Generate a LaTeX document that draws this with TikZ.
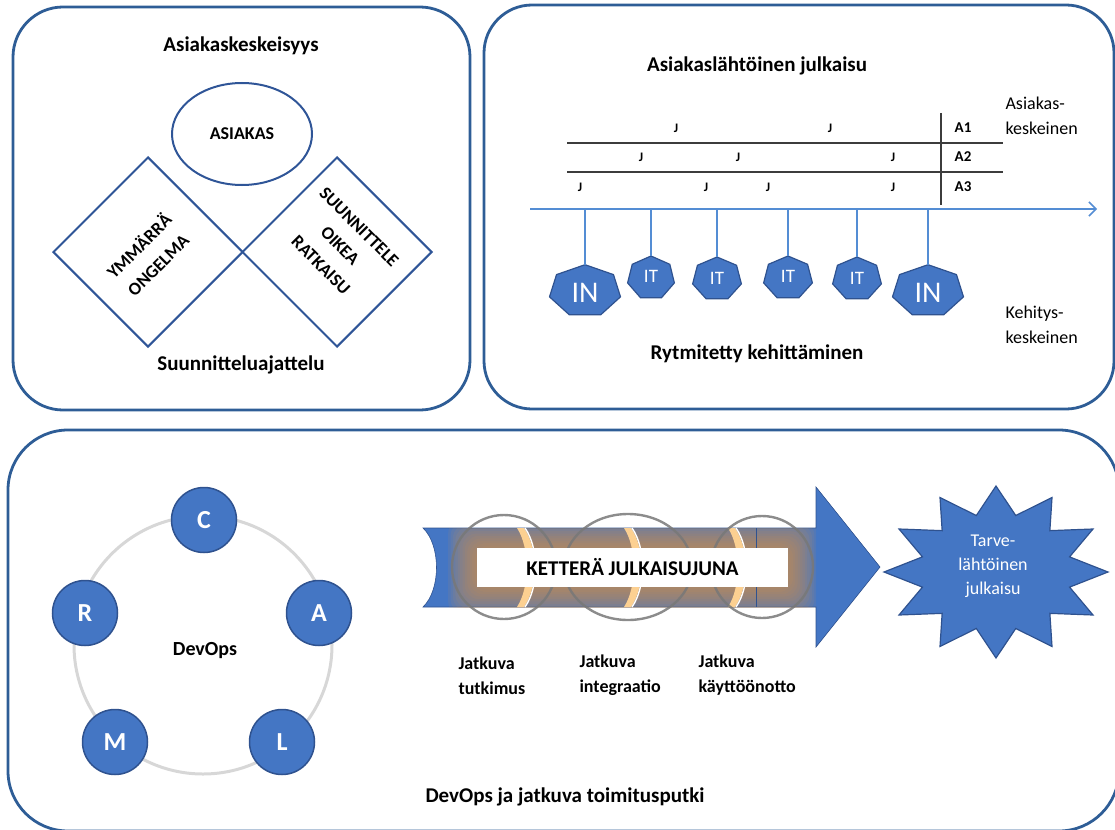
\documentclass[tikz,border=0pt]{standalone}
\usepackage{fontspec}
\setmainfont{Carlito}
\usetikzlibrary{shapes.geometric,arrows.meta}

\definecolor{framecol}{RGB}{46,93,150}
\definecolor{shapecol}{RGB}{47,85,151}
\definecolor{bluefill}{RGB}{68,118,196}
\definecolor{blueedge}{RGB}{47,82,143}
\definecolor{axiscol}{RGB}{84,141,212}
\definecolor{rulecol}{RGB}{60,60,60}
\definecolor{ringcol}{RGB}{120,120,120}
\definecolor{cyclecol}{RGB}{215,215,215}
\definecolor{glowcol}{RGB}{210,145,75}
\definecolor{jointcol}{RGB}{252,208,145}

\newcommand\fs[2]{\fontsize{#1}{#2}\selectfont}
% heptagon with flat bottom: centre x, centre y, x radius, y radius, style
\newcommand\drawhept[5]{%
  \begin{scope}[shift={(#1,#2)}, xscale=#3, yscale=-#4]
    \path[#5] (90:1) \foreach \k in {1,...,6}{ -- ({90+\k*360/7}:1) } -- cycle;
  \end{scope}}

\begin{document}
\begin{tikzpicture}[x=1pt, y=-1pt,
  panel/.style={draw=framecol, line width=2.8},
  title/.style={font=\bfseries\fs{21}{25}},
  shapeline/.style={draw=shapecol, line width=2},
  caps/.style={font=\bfseries\fs{18}{27}, align=center},
  jmark/.style={font=\bfseries\fs{13}{15}},
  rowlbl/.style={font=\bfseries\fs{15}{17}},
  side/.style={font=\fs{18}{25}, align=left, anchor=west},
  hept/.style={fill=bluefill, draw=blueedge, line width=1.2},
  heptbig/.style={text=white, font=\fs{30}{32}},
  heptsmall/.style={text=white, font=\fs{19}{21}},
  stem/.style={draw=axiscol, line width=1.4},
  stemthick/.style={draw=axiscol, line width=2.6},
  devnode/.style={circle, fill=bluefill, draw=blueedge, line width=1.5,
    minimum size=65, inner sep=0, text=white, font=\bfseries\fs{26}{30}},
  lbl/.style={font=\bfseries\fs{18}{25}, align=left, anchor=west},
  ring/.style={draw=ringcol, line width=2.4, opacity=0.85},
  startext/.style={text=white, font=\fs{18}{24}, align=center}]

\useasboundingbox (0,0) rectangle (1115,829);
\clip (0,0) rectangle (1115,829);

% ---------- panels ----------
\draw[panel, rounded corners=50] (13,7) rectangle (470,410);
\draw[panel, rounded corners=48] (484,5) rectangle (1114,409);
\draw[panel, rounded corners=60] (8,430) rectangle (1119,831);

% ---------- design thinking ----------
\node[title] (asktitle) at (241,46) {Asiakaskeskeisyys};
\node[ellipse, shapeline, minimum width=140, minimum height=102, inner sep=0,
  font=\bfseries\fs{18}{21}] (asiakas) at (242,134) {ASIAKAS};
\node[diamond, shapeline, minimum width=190, minimum height=190, inner sep=0] (dleft) at (148,252) {};
\node[diamond, shapeline, minimum width=190, minimum height=190, inner sep=0] (dright) at (337,252) {};
\node[caps, rotate=45] (ymm) at (148,255) {YMMÄRRÄ\\ONGELMA};
\node[caps, rotate=-45] (suun) at (340,246) {SUUNNITTELE\\OIKEA\\RATKAISU};
\node[title] (suutitle) at (241,365) {Suunnitteluajattelu};

% ---------- release cadence ----------
\node[title] (reltitle) at (757,66) {Asiakaslähtöinen julkaisu};
\draw[rulecol, line width=1.6] (567,143) -- (1003,143);
\draw[rulecol, line width=1.6] (567,172) -- (1003,172);
\draw[rulecol, line width=1.6] (941,113) -- (941,205);
\foreach \x in {676,830} \node[jmark] at (\x,128) {J};
\foreach \x in {641,738,893} \node[jmark] at (\x,157) {J};
\foreach \x in {580,706,768,893} \node[jmark] at (\x,187) {J};
\node[rowlbl] (a1) at (963,128) {A1};
\node[rowlbl] (a2) at (963,157) {A2};
\node[rowlbl] (a3) at (963,187) {A3};
\node[side] (asiakasside) at (1002,116) {Asiakas-\\keskeinen};
\node[side] (kehside) at (1002,325) {Kehitys-\\keskeinen};

\coordinate (axstart) at (530,209);
\coordinate (axend) at (1097,209);
\draw[axiscol, line width=1.5, -{Straight Barb[length=7,width=14,line width=1.5]}] (axstart) -- (axend);

% stems and heptagons
\drawhept{585}{291}{36.4}{26.3}{hept}
\drawhept{651}{278}{24}{22}{hept}
\drawhept{717}{279}{25}{22}{hept}
\drawhept{788}{278}{25}{22}{hept}
\drawhept{857}{279}{25}{22}{hept}
\drawhept{928}{291}{36.4}{26.3}{hept}
\node[heptbig] (in1) at (585,293) {IN};
\node[heptsmall] (it1) at (651,276) {IT};
\node[heptsmall] (it2) at (717,278) {IT};
\node[heptsmall] (it3) at (788,276) {IT};
\node[heptsmall] (it4) at (857,278) {IT};
\node[heptbig] (in2) at (928,293) {IN};
\foreach \x/\t in {585/265, 928/265} {
  \coordinate (top\x) at (\x,\t);
  \coordinate (foot\x) at (\x,209);
  \draw[stemthick] (foot\x) -- (top\x);
}
\foreach \x/\t in {651/256, 717/257, 788/256, 857/257} {
  \coordinate (top\x) at (\x,\t);
  \coordinate (foot\x) at (\x,209);
  \draw[stem] (foot\x) -- (top\x);
}
\node[title] (rytitle) at (757,354) {Rytmitetty kehittäminen};

% ---------- DevOps cycle ----------
\draw[cyclecol, line width=3] (203,645) circle[radius=129];
\node[devnode] (c) at (204,520) {C};
\node[devnode] (a) at (319,613) {A};
\node[devnode] (l) at (282,742) {L};
\node[devnode] (m) at (115,742) {M};
\node[devnode] (r) at (85,613) {R};
\node[font=\bfseries\fs{20}{24}] (devops) at (205,651) {DevOps};
\node[title] (bottitle) at (565,797) {DevOps ja jatkuva toimitusputki};

% ---------- delivery pipeline arrow ----------
\path[fill=bluefill, draw=blueedge, line width=0.6]
  (423,528) -- (816,528) -- (816,487) -- (880,567) -- (816,647) -- (816,607)
  -- (423,607) .. controls (441,590) and (441,545) .. (423,528) -- cycle;
\begin{scope}
  \clip (423,528) rectangle (816,607);
  \foreach \i in {1,...,12}
    \fill[glowcol, opacity=0.1, rounded corners=14]
      ({477-2.4*\i},{548-2.4*\i}) rectangle ({788+2.4*\i},{587+2.4*\i});
\end{scope}
\foreach \x in {517,624,728} {
  \fill[jointcol] (\x,528) .. controls (\x+13,548) and (\x+13,587) .. (\x,607)
    -- (\x+7,607) .. controls (\x+21,587) and (\x+21,548) .. (\x+7,528) -- cycle;
  \draw[white, line width=1.4] (\x+8,528) .. controls (\x+22,548) and (\x+22,587) .. (\x+8,607);
}
\draw[blueedge, line width=1] (756,528) -- (756,607);
\draw[ring] (504,567) circle[radius=52];
\draw[ring] (628,567) ellipse[x radius=64, y radius=53];
\draw[ring] (762,567) circle[radius=51];
\node[fill=white, minimum width=311, minimum height=39, inner sep=0,
  font=\bfseries\fs{21}{24}] (train) at (632.5,567.5) {KETTERÄ JULKAISUJUNA};

\node[lbl] (jt) at (455,675.5) {Jatkuva\\tutkimus};
\node[lbl] (ji) at (576,675.5) {Jatkuva\\integraatio};
\node[lbl] (jk) at (695,675.5) {Jatkuva\\käyttöönotto};

% ---------- needs-driven release star ----------
\begin{scope}[shift={(996,572)}, xscale=112, yscale=-86]
  \path[fill=bluefill, draw=blueedge, line width=1.2]
    (90:1) -- (105:0.68) \foreach \k in {1,...,11}{ -- ({90+\k*30}:1) -- ({105+\k*30}:0.68) } -- cycle;
\end{scope}
\node[startext] (tarve) at (993,566) {Tarve-\\lähtöinen\\julkaisu};

\end{tikzpicture}
\end{document}
